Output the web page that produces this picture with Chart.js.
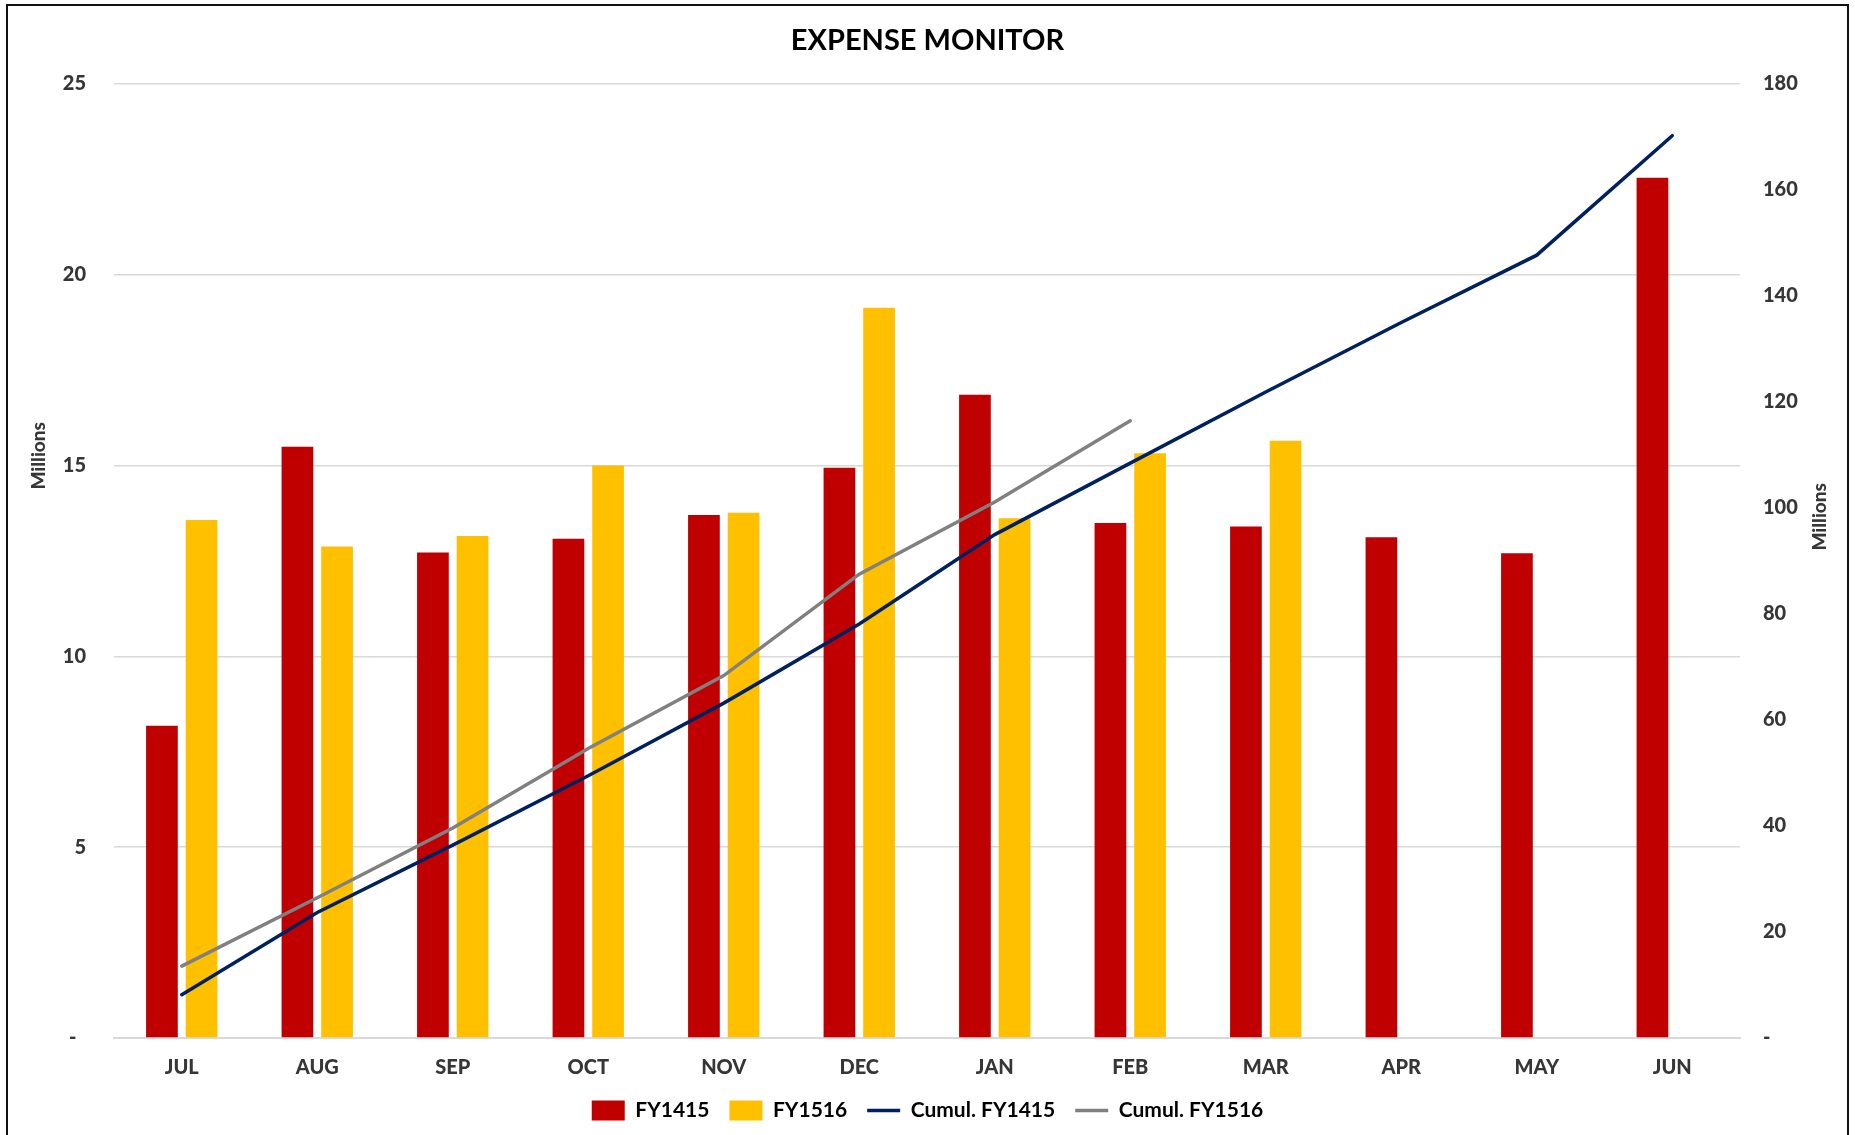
<!DOCTYPE html>
<html>
<head>
<meta charset="utf-8">
<title>Expense Monitor</title>
<script src="https://cdn.jsdelivr.net/npm/chart.js@4.4.1/dist/chart.umd.min.js"></script>
<style>
  html, body {
    margin: 0;
    padding: 0;
    background: #fff;
    overflow: hidden;
  }
  #wrap {
    position: relative;
    width: 1855px;
    height: 1135px;
    overflow: hidden;
  }
  #expenseChart {
    position: absolute;
    left: 0;
    top: 0;
  }
  #frame {
    position: absolute;
    left: 6px;
    top: 4px;
    width: 1843px;
    height: 1200px;
    box-sizing: border-box;
    border: 2px solid #111;
    pointer-events: none;
  }
</style>
</head>
<body>
<div id="wrap">
  <canvas id="expenseChart" width="1855" height="1145"></canvas>
  <div id="frame"></div>
</div>

<script>
// ===================== DATA (in millions) =====================
const months = ["JUL", "AUG", "SEP", "OCT", "NOV", "DEC", "JAN", "FEB", "MAR", "APR", "MAY", "JUN"];

const fy1415 = [8.18, 15.49, 12.72, 13.08, 13.70, 14.94, 16.85, 13.49, 13.40, 13.12, 12.70, 22.54];
const fy1516 = [13.57, 12.88, 13.15, 15.00, 13.76, 19.13, 13.62, 15.32, 15.65, null, null, null];

const cumulFy1415 = [8.18, 23.67, 36.39, 49.47, 63.17, 78.11, 94.96, 108.45, 121.85, 134.97, 147.67, 170.21];
const cumulFy1516 = [13.57, 26.45, 39.60, 54.60, 68.36, 87.49, 101.11, 116.43, null, null, null, null];

const monthlyTicks = [0, 5, 10, 15, 20, 25];
const cumulTicks = [0, 20, 40, 60, 80, 100, 120, 140, 160, 180];

// ===================== STYLE =====================
const FONT = "Lato, 'Liberation Sans', sans-serif";
const TICK_COLOR = "#363636";
const GRID_COLOR = "#d9d9d9";
const TICK_FONT = { family: FONT, size: 20, weight: "900" };

// "Millions" captions beside both value axes
const axisCaptions = {
  id: "axisCaptions",
  afterDraw(chart) {
    const { ctx, chartArea } = chart;
    ctx.save();
    ctx.fillStyle = TICK_COLOR;
    ctx.font = "900 19px " + FONT;
    ctx.textAlign = "center";
    ctx.textBaseline = "middle";

    const spots = [
      [chartArea.left - 75, chartArea.top + 372],
      [chartArea.right + 80, chartArea.top + 433]
    ];
    spots.forEach(([x, y]) => {
      ctx.save();
      ctx.translate(x, y);
      ctx.rotate(-Math.PI / 2);
      ctx.fillText("Millions", 0, 0);
      ctx.restore();
    });
    ctx.restore();
  }
};

const ctx = document.getElementById("expenseChart").getContext("2d");

new Chart(ctx, {
  data: {
    labels: months,
    datasets: [
      {
        type: "bar",
        label: "FY1415",
        data: fy1415,
        backgroundColor: "#c00000",
        borderWidth: 0,
        pointStyle: "rect",
        yAxisID: "y",
        order: 2
      },
      {
        type: "bar",
        label: "FY1516",
        data: fy1516,
        backgroundColor: "#ffc000",
        borderWidth: 0,
        pointStyle: "rect",
        yAxisID: "y",
        order: 2
      },
      {
        type: "line",
        label: "Cumul. FY1415",
        data: cumulFy1415,
        borderColor: "#002060",
        backgroundColor: "#002060",
        borderWidth: 3.5,
        borderCapStyle: "round",
        pointRadius: 0,
        pointStyle: "line",
        tension: 0,
        yAxisID: "y2",
        order: 1
      },
      {
        type: "line",
        label: "Cumul. FY1516",
        data: cumulFy1516,
        borderColor: "#808080",
        backgroundColor: "#808080",
        borderWidth: 3.5,
        borderCapStyle: "round",
        pointRadius: 0,
        pointStyle: "line",
        tension: 0,
        yAxisID: "y2",
        order: 1
      }
    ]
  },
  options: {
    responsive: false,
    animation: false,
    devicePixelRatio: 1,
    layout: {
      padding: { left: 0, right: 0, top: 0, bottom: 14 }
    },
    datasets: {
      bar: {
        categoryPercentage: 0.585,
        barPercentage: 0.8
      }
    },
    plugins: {
      title: {
        display: true,
        text: "EXPENSE MONITOR",
        color: "#000",
        font: { family: FONT, size: 29, weight: "bold" },
        padding: { top: 23, bottom: 26 }
      },
      legend: {
        position: "bottom",
        labels: {
          color: "#000",
          font: { family: FONT, size: 21, weight: "bold" },
          usePointStyle: true,
          pointStyleWidth: 33,
          boxHeight: 20,
          padding: 20,
          sort: (a, b) => a.datasetIndex - b.datasetIndex
        }
      },
      tooltip: { enabled: false }
    },
    scales: {
      x: {
        grid: { display: false, drawTicks: false },
        border: { display: true, color: GRID_COLOR, width: 2 },
        ticks: {
          color: TICK_COLOR,
          padding: 18,
          font: TICK_FONT
        },
        afterFit(scale) {
          scale.height = 42;
        }
      },
      y: {
        position: "left",
        min: monthlyTicks[0],
        max: monthlyTicks[monthlyTicks.length - 1],
        afterBuildTicks(scale) {
          scale.ticks = monthlyTicks.map(v => ({ value: v }));
        },
        grid: { color: GRID_COLOR, lineWidth: 1.5, drawTicks: false },
        border: { display: false },
        ticks: {
          color: TICK_COLOR,
          padding: 28,
          font: TICK_FONT,
          callback: v => (v === 0 ? "-  " : v)
        },
        afterFit(scale) {
          scale.width = 114;
        }
      },
      y2: {
        position: "right",
        min: cumulTicks[0],
        max: cumulTicks[cumulTicks.length - 1],
        afterBuildTicks(scale) {
          scale.ticks = cumulTicks.map(v => ({ value: v }));
        },
        grid: { display: false, drawTicks: false },
        border: { display: false },
        ticks: {
          color: TICK_COLOR,
          padding: 23,
          font: TICK_FONT,
          callback: v => (v === 0 ? "-" : v)
        },
        afterFit(scale) {
          scale.width = 115;
        }
      }
    }
  },
  plugins: [axisCaptions]
});
</script>
</body>
</html>
